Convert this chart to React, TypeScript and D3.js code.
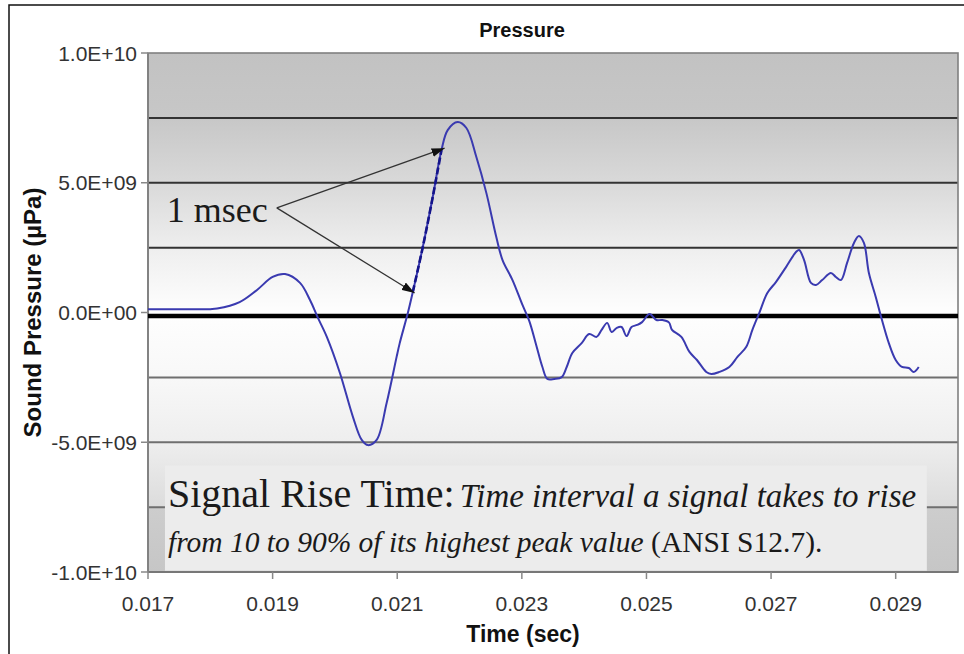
import React from "react";
import * as d3 from "d3";

// ---- data (time in seconds, pressure in units of 1e9 µPa) ----
const TIME = [
  0.017, 0.0175, 0.018, 0.01811, 0.01847, 0.01875, 0.019, 0.0192, 0.01944, 0.0196,
  0.01972, 0.01987, 0.02008, 0.02029, 0.02043, 0.02053, 0.02067, 0.02083, 0.02099, 0.02104,
  0.02117, 0.02125, 0.02141, 0.02157, 0.02171, 0.02181, 0.02197, 0.02211, 0.02227, 0.02243,
  0.02259, 0.02269, 0.02285, 0.02301, 0.02312, 0.02323, 0.02333, 0.02341, 0.02352, 0.02364,
  0.02372, 0.02381, 0.02396, 0.02408, 0.0242, 0.02428, 0.02437, 0.02444, 0.02452, 0.0246,
  0.02468, 0.02476, 0.02485, 0.02493, 0.02505, 0.02516, 0.02525, 0.02536, 0.02541, 0.02556,
  0.02569, 0.02581, 0.02596, 0.02604, 0.02617, 0.02633, 0.02646, 0.0266, 0.0267, 0.02681,
  0.02694, 0.02708, 0.02724, 0.0274, 0.02745, 0.02753, 0.02764, 0.02772, 0.02782, 0.02796,
  0.02804, 0.02812, 0.02822, 0.02833, 0.02841, 0.02849, 0.02857, 0.02868, 0.02878, 0.02889,
  0.029, 0.0291, 0.02921, 0.02929, 0.02937,
];
const PRESSURE_E9 = [
  0.13, 0.13, 0.13, 0.15, 0.4, 0.87, 1.37, 1.48, 1.14, 0.48,
  -0.17, -0.94, -2.33, -4.03, -4.91, -5.11, -4.91, -3.49, -1.71, -1.18,
  -0.02, 0.79, 2.52, 4.45, 6.26, 7.03, 7.34, 7.11, 5.99, 4.61,
  2.91, 2.02, 1.25, 0.29, -0.33, -1.25, -2.1, -2.56, -2.56, -2.49,
  -2.1, -1.56, -1.18, -0.83, -0.94, -0.67, -0.4, -0.75, -0.6, -0.56,
  -0.91, -0.56, -0.48, -0.37, -0.06, -0.29, -0.29, -0.38, -0.67, -0.94,
  -1.52, -1.83, -2.29, -2.37, -2.29, -2.1, -1.71, -1.33, -0.67, -0.02,
  0.75, 1.18, 1.75, 2.33, 2.41, 2.02, 1.14, 1.06, 1.25, 1.52,
  1.37, 1.25, 1.91, 2.68, 2.95, 2.68, 1.52, 0.6, -0.29, -1.18,
  -1.83, -2.1, -2.14, -2.29, -2.1,
];

const X_DOMAIN = [0.017, 0.03];
const Y_DOMAIN = [-1e10, 1e10];
const X_TICKS = [0.017, 0.019, 0.021, 0.023, 0.025, 0.027, 0.029];
const X_TICK_LABELS = ["0.017", "0.019", "0.021", "0.023", "0.025", "0.027", "0.029"];
const Y_TICKS = [1e10, 5e9, 0, -5e9, -1e10];
const Y_TICK_LABELS = ["1.0E+10", "5.0E+09", "0.0E+00", "-5.0E+09", "-1.0E+10"];
const Y_GRID = [7.5e9, 5e9, 2.5e9, -2.5e9, -5e9, -7.5e9];

const TITLE = "Pressure";
const X_TITLE = "Time (sec)";
const Y_TITLE = "Sound Pressure (µPa)";

// rise-time annotation (data coordinates)
const RISE_START = 0.02123;
const RISE_END = 0.02172;
const ARROW_FROM = { t: 0.019067, v: 4.03e9 };
const ARROW_TO = [
  { t: 0.02176, v: 6.33e9 },
  { t: 0.021279, v: 0.75e9 },
];
const MSEC_LABEL = { t: 0.018923, v: 3.49e9, text: "1 msec" };

// caption box (data coordinates)
const BOX = { t0: 0.017272, t1: 0.0295, vTop: -5.9e9, vBottom: -9.95e9 };
const CAPTION_X = 0.01732;
const CAPTION_LINE1_V = -7.5e9;
const CAPTION_LINE2_V = -9.23e9;

const W = 964;
const H = 654;
const PLOT = { left: 148, right: 958, top: 53, bottom: 572 };

const SANS = "'Liberation Sans', Arial, Helvetica, sans-serif";
const SERIF = "'Liberation Serif', 'Times New Roman', Times, serif";

export default function App() {
  const x = d3.scaleLinear().domain(X_DOMAIN).range([PLOT.left, PLOT.right]);
  const y = d3.scaleLinear().domain(Y_DOMAIN).range([PLOT.bottom, PLOT.top]);

  const data = TIME.map((t, i) => ({ t, v: PRESSURE_E9[i] * 1e9 }));
  const line = d3
    .line<{ t: number; v: number }>()
    .x((d) => x(d.t))
    .y((d) => y(d.v))
    .curve(d3.curveCatmullRom.alpha(0.5));
  const risePts = data.filter((d) => d.t >= RISE_START && d.t <= RISE_END);

  const plotW = PLOT.right - PLOT.left;
  const plotH = PLOT.bottom - PLOT.top;
  const cx = (PLOT.left + PLOT.right) / 2;

  return (
    <svg
      width={W}
      height={H}
      viewBox={`0 0 ${W} ${H}`}
      style={{ position: "absolute", left: 0, top: 0, background: "#fff" }}
    >
      <defs>
        <linearGradient id="plotBg" x1="0" y1="0" x2="0" y2="1">
          <stop offset="0%" stopColor="#c2c2c2" />
          <stop offset="12.5%" stopColor="#c7c7c7" />
          <stop offset="25%" stopColor="#d9d9d9" />
          <stop offset="37.5%" stopColor="#eeeeee" />
          <stop offset="50%" stopColor="#fefefe" />
          <stop offset="62.5%" stopColor="#f8f8f8" />
          <stop offset="75%" stopColor="#eeeeee" />
          <stop offset="87.4%" stopColor="#dcdcdc" />
          <stop offset="87.6%" stopColor="#cdcdcd" />
          <stop offset="100%" stopColor="#c6c6c6" />
        </linearGradient>
        <marker
          id="arrowHead"
          viewBox="0 0 12 8"
          refX="12"
          refY="4"
          markerWidth="13"
          markerHeight="9"
          markerUnits="userSpaceOnUse"
          orient="auto"
        >
          <path d="M0,0 L12,4 L0,8 Z" fill="#111" />
        </marker>
      </defs>

      {/* outer frame */}
      <rect x={9} y={5} width={1000} height={700} fill="#fff" stroke="#111" strokeWidth={1.5} />

      {/* title */}
      <text
        x={522}
        y={37}
        textAnchor="middle"
        fontFamily={SANS}
        fontWeight="bold"
        fontSize={20}
        fill="#111"
      >
        {TITLE}
      </text>

      {/* plot background */}
      <rect x={PLOT.left} y={PLOT.top} width={plotW} height={plotH} fill="url(#plotBg)" />

      {/* gridlines */}
      {Y_GRID.map((g) => (
        <line
          key={g}
          x1={PLOT.left}
          x2={PLOT.right}
          y1={y(g)}
          y2={y(g)}
          stroke={g > 0 ? "#333" : "#6f6f6f"}
          strokeWidth={2}
        />
      ))}

      {/* plot border */}
      <rect
        x={PLOT.left}
        y={PLOT.top}
        width={plotW}
        height={plotH}
        fill="none"
        stroke="#808080"
        strokeWidth={1.6}
      />

      {/* caption box */}
      <rect
        x={x(BOX.t0)}
        y={y(BOX.vTop)}
        width={x(BOX.t1) - x(BOX.t0)}
        height={y(BOX.vBottom) - y(BOX.vTop)}
        fill="#ececec"
      />
      <text x={x(CAPTION_X)} y={y(CAPTION_LINE1_V)} fontFamily={SERIF} fill="#1a1a1a">
        <tspan fontSize={40}>Signal Rise Time:</tspan>
        <tspan dx={5} fontSize={33} fontStyle="italic">
          Time interval a signal takes to rise
        </tspan>
      </text>
      <text x={x(CAPTION_X)} y={y(CAPTION_LINE2_V)} fontFamily={SERIF} fill="#1a1a1a" fontSize={29.5}>
        <tspan fontStyle="italic">from 10 to 90% of its highest peak value </tspan>
        <tspan>(ANSI S12.7).</tspan>
      </text>

      {/* x axis line + ticks */}
      <line x1={PLOT.left} x2={PLOT.right} y1={PLOT.bottom} y2={PLOT.bottom} stroke="#777" strokeWidth={1.8} />
      {X_TICKS.map((t, i) => (
        <g key={t}>
          <line x1={x(t)} x2={x(t)} y1={PLOT.bottom} y2={PLOT.bottom + 7} stroke="#888" strokeWidth={1.5} />
          <text
            x={x(t)}
            y={611}
            textAnchor="middle"
            fontFamily={SANS}
            fontSize={21}
            fill="#333"
          >
            {X_TICK_LABELS[i]}
          </text>
        </g>
      ))}

      {/* y axis ticks + labels */}
      <line x1={PLOT.left} x2={PLOT.left} y1={PLOT.top} y2={PLOT.bottom} stroke="#808080" strokeWidth={1.8} />
      {Y_TICKS.map((v, i) => (
        <g key={v}>
          <line x1={PLOT.left - 7} x2={PLOT.left} y1={y(v)} y2={y(v)} stroke="#888" strokeWidth={1.5} />
          <text
            x={137}
            y={y(v)}
            dy="0.36em"
            textAnchor="end"
            fontFamily={SANS}
            fontSize={21}
            fill="#333"
          >
            {Y_TICK_LABELS[i]}
          </text>
        </g>
      ))}

      {/* zero reference line */}
      <line
        x1={PLOT.left}
        x2={PLOT.right}
        y1={y(0) + 3.5}
        y2={y(0) + 3.5}
        stroke="#000"
        strokeWidth={4.5}
      />

      {/* waveform */}
      <path d={line(data) || ""} fill="none" stroke="#3a3ab0" strokeWidth={2} strokeLinejoin="round" />
      {/* highlighted rise segment */}
      <path
        d={line(risePts) || ""}
        fill="none"
        stroke="#14148a"
        strokeWidth={2.6}
        strokeDasharray="7 3"
      />

      {/* 1 msec annotation */}
      {ARROW_TO.map((a, i) => (
        <line
          key={i}
          x1={x(ARROW_FROM.t)}
          y1={y(ARROW_FROM.v)}
          x2={x(a.t)}
          y2={y(a.v)}
          stroke="#333"
          strokeWidth={1.3}
          markerEnd="url(#arrowHead)"
        />
      ))}
      <text
        x={x(MSEC_LABEL.t)}
        y={y(MSEC_LABEL.v)}
        textAnchor="end"
        fontFamily={SERIF}
        fontSize={36}
        fill="#1a1a1a"
      >
        {MSEC_LABEL.text}
      </text>

      {/* axis titles */}
      <text
        x={523}
        y={642}
        textAnchor="middle"
        fontFamily={SANS}
        fontWeight="bold"
        fontSize={23}
        fill="#111"
      >
        {X_TITLE}
      </text>
      <text
        transform={`translate(41, ${(PLOT.top + PLOT.bottom) / 2}) rotate(-90)`}
        textAnchor="middle"
        fontFamily={SANS}
        fontWeight="bold"
        fontSize={24}
        fill="#111"
      >
        {Y_TITLE}
      </text>
    </svg>
  );
}
